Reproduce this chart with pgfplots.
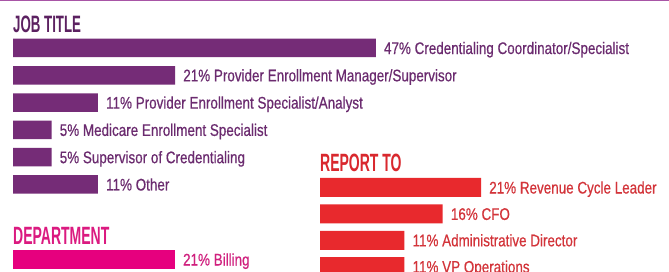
\documentclass[border=0pt]{standalone}
\usepackage{pgfplots}
\pgfplotsset{compat=1.18}
\usepackage{fontspec}
\setmainfont{Liberation Sans}
\newfontfamily\lblfont[FakeStretch=0.80,FakeBold=0.5]{Liberation Sans}
\newfontfamily\hdrfont[FakeStretch=0.56]{Liberation Sans}
\definecolor{topline}{HTML}{A855A6}
\definecolor{jobbar}{HTML}{752C77}
\definecolor{joblbl}{HTML}{6B2B6F}
\definecolor{jobhdr}{HTML}{5C2161}
\definecolor{depbar}{HTML}{E6007E}
\definecolor{deplbl}{HTML}{D0207E}
\definecolor{dephdr}{HTML}{DB1A80}
\definecolor{repbar}{HTML}{E8292D}
\definecolor{replbl}{HTML}{D3343A}
\definecolor{rephdr}{HTML}{D9282E}
\pgfplotsset{hb/.style={scale only axis, anchor=north west, axis lines=none,
  xbar, clip=false, xmin=0, xmax=50, y dir=reverse,
  point meta=explicit symbolic, nodes near coords,
  nodes near coords style={anchor=base west, inner sep=0pt, xshift=8bp, yshift=-6bp,
    font=\lblfont\fontsize{16.8bp}{20bp}\selectfont}}}
\begin{document}
\begin{tikzpicture}
\useasboundingbox (0,0) rectangle (669bp,272bp);
\clip (0,0) rectangle (669bp,272bp);
\fill[white] (0,0) rectangle (669bp,272bp);
\fill[topline] (0,270.8bp) rectangle (669bp,272bp);
\node[anchor=base west, inner sep=0pt, text=jobhdr, font=\hdrfont\bfseries\fontsize{23.7bp}{24bp}\selectfont] at (13bp,239.7bp) {JOB TITLE};
\node[anchor=base west, inner sep=0pt, text=dephdr, font=\hdrfont\bfseries\fontsize{25bp}{25bp}\selectfont] at (13bp,28bp) {DEPARTMENT};
\node[anchor=base west, inner sep=0pt, text=rephdr, font=\hdrfont\bfseries\fontsize{25bp}{25bp}\selectfont] at (320bp,100bp) {REPORT TO};
\begin{axis}[hb, at={(13bp,237.65bp)}, width=386bp, height=163.8bp, ymin=-0.5, ymax=5.5,
  bar width=18.5bp, nodes near coords style={text=joblbl}]
\addplot[fill=jobbar, draw=none] coordinates {
 (47,0) [47\% Credentialing Coordinator/Specialist]
 (21,1) [21\% Provider Enrollment Manager/Supervisor]
 (11,2) [11\% Provider Enrollment Specialist/Analyst]
 (5,3) [5\% Medicare Enrollment Specialist]
 (5,4) [5\% Supervisor of Credentialing]
 (11,5) [11\% Other]
};
\end{axis}
\begin{axis}[hb, at={(13bp,26.15bp)}, width=385.5bp, height=27.3bp, ymin=-0.5, ymax=0.5,
  bar width=19bp, nodes near coords style={text=deplbl}]
\addplot[fill=depbar, draw=none] coordinates {
 (21,0) [21\% Billing]
};
\end{axis}
\begin{axis}[hb, at={(320bp,97.7bp)}, width=383.5bp, height=105.6bp, ymin=-0.5, ymax=3.5,
  bar width=19bp, nodes near coords style={text=replbl}]
\addplot[fill=repbar, draw=none] coordinates {
 (21,0) [21\% Revenue Cycle Leader]
 (16,1) [16\% CFO]
 (11,2) [11\% Administrative Director]
 (11,3) [11\% VP Operations]
};
\end{axis}
\end{tikzpicture}
\end{document}
